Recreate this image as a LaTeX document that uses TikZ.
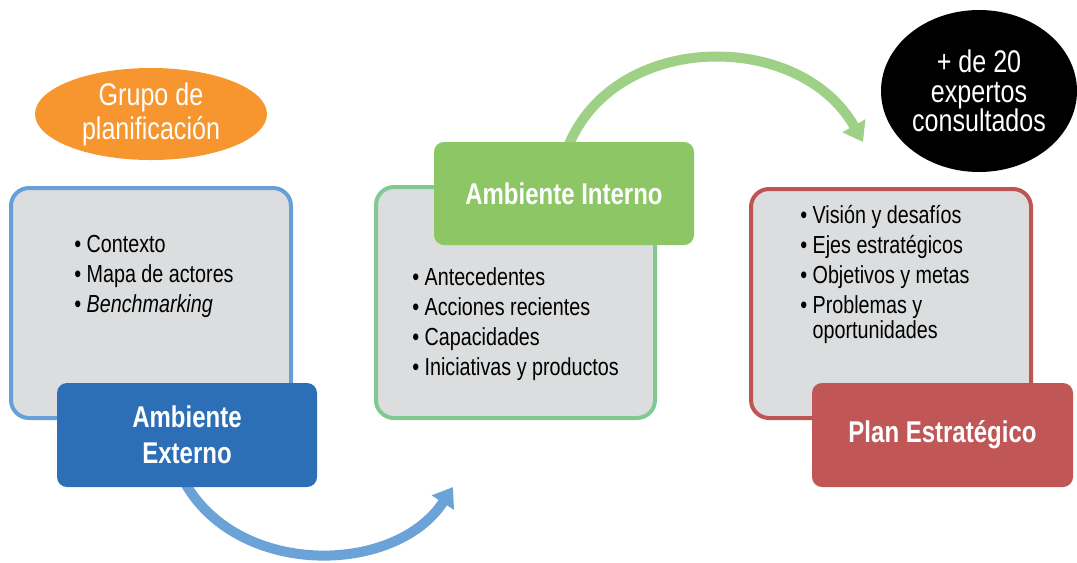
\documentclass[tikz,border=0pt]{standalone}
\usepackage{fontspec}
\setmainfont{Liberation Sans}[FakeStretch=0.8]
\usetikzlibrary{shapes.geometric,arrows.meta,calc}
\newdimen\pxu \pxu=0.75pt
\definecolor{boxgray}{HTML}{DCDDDE}
\definecolor{blueborder}{HTML}{67A0D8}
\definecolor{extblue}{HTML}{2C6FB7}
\definecolor{greenborder}{HTML}{80C990}
\definecolor{intgreen}{HTML}{8CC665}
\definecolor{redborder}{HTML}{BE5555}
\definecolor{planred}{HTML}{C05656}
\definecolor{grporange}{HTML}{F7962F}
\definecolor{arrowblue}{HTML}{6BA3D9}
\definecolor{arrowgreen}{HTML}{9ED186}
\pgfdeclarelayer{bg}
\pgfsetlayers{bg,main}
\begin{document}
\begin{tikzpicture}[x=0.75pt,y=-0.75pt,
  graybox/.style={draw, line width=3pt, fill=boxgray, rounded corners=13.5pt, inner sep=0pt},
  titlebox/.style={fill=#1, rounded corners=7.5pt, text=white, font=\fontsize{22.5}{27}\selectfont\bfseries, align=center, minimum width=260\pxu, minimum height=104\pxu, inner sep=0pt},
  listtext/.style={anchor=north west, inner sep=0pt, align=left, font=\fontsize{18.5}{22.5}\selectfont},
  bigarrow/.style={line width=7.5pt, -{Triangle[length=14pt,width=19pt]}},
  bubble/.style={ellipse, inner sep=0pt, text=white, align=center}
]
\useasboundingbox (0,0) rectangle (1077,562);

% left column
\node[bubble, fill=grporange, minimum width=232\pxu, minimum height=92\pxu, font=\fontsize{23.5}{25.5}\selectfont] (grupo) at (151,114) {Grupo de\\planificación};
\node[graybox, draw=blueborder, minimum width=280\pxu, minimum height=230\pxu] (extbox) at (151,303) {};
\node[listtext] (extlist) at (74,235) {\textbullet\ Contexto\\ \textbullet\ Mapa de actores\\ \textbullet\ \textit{Benchmarking}};
\node[titlebox=extblue] (ext) at (187,435) {Ambiente\\Externo};

% middle column
\node[graybox, draw=greenborder, minimum width=279\pxu, minimum height=231\pxu] (intbox) at (515.5,302.5) {};
\node[titlebox=intgreen, minimum height=103\pxu] (int) at (564,193.5) {Ambiente Interno};
\node[listtext] (intlist) at (412,267) {\textbullet\ Antecedentes\\ \textbullet\ Acciones recientes\\ \textbullet\ Capacidades\\ \textbullet\ Iniciativas y productos};

% right column
\node[bubble, fill=black, minimum width=196\pxu, minimum height=162\pxu, font=\fontsize{23.5}{22}\selectfont] (expertos) at (979,91) {+ de 20\\expertos\\consultados};
\node[graybox, draw=redborder, minimum width=280\pxu, minimum height=229\pxu] (planbox) at (891,303.5) {};
\node[listtext] (planlist) at (800,205) {\textbullet\ Visión y desafíos\\ \textbullet\ Ejes estratégicos\\ \textbullet\ Objetivos y metas\\ \textbullet\ Problemas y\\[-3.75pt] \phantom{\textbullet\ }oportunidades};
\node[titlebox=planred, minimum width=261\pxu] (plan) at (942.5,435) {Plan Estratégico};

% arrows
\begin{pgfonlayer}{bg}
\coordinate (bluetip) at (453,487);
\coordinate (greentip) at (863,142);
\draw[bigarrow, draw=arrowblue] ($(ext.south)+(-4,-8)$) .. controls (235,578) and (395,576) .. (bluetip);
\draw[bigarrow, draw=arrowgreen] ($(int.north)+(4,5)$) .. controls (615,30) and (800,30) .. (greentip);
\end{pgfonlayer}
\end{tikzpicture}
\end{document}
